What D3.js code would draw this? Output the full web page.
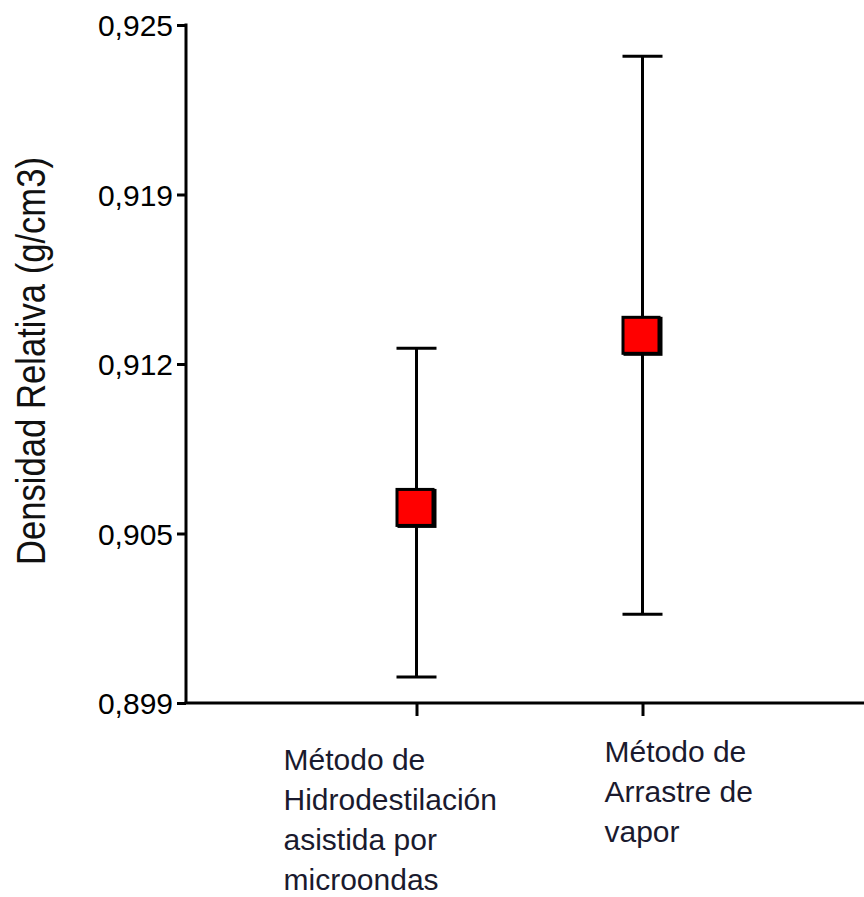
<!DOCTYPE html>
<html>
<head>
<meta charset="utf-8">
<script src="https://cdn.jsdelivr.net/npm/d3@7"></script>
<style>
  html, body { margin: 0; padding: 0; background: #fff; }
  svg { display: block; font-family: "Liberation Sans", Arial, sans-serif; }
</style>
</head>
<body>
<svg id="chart" width="864" height="897"></svg>
<script>
// Relative density of the essential oil by extraction method (mean with error range)
const categories = [
  "Método de Hidrodestilación asistida por microondas",
  "Método de Arrastre de vapor"
];
const categoryLines = [
  ["Método de", "Hidrodestilación", "asistida por", "microondas"],
  ["Método de", "Arrastre de", "vapor"]
];
const means = [0.9065, 0.9131];
const errorsUp = [0.0061, 0.0107];
const errorsDown = [0.0065, 0.0107];
const yTickValues = [0.899, 0.9055, 0.912, 0.9185, 0.925];
const yTickLabels = ["0,899", "0,905", "0,912", "0,919", "0,925"];
const yTitle = "Densidad Relativa (g/cm3)";

// layout
const plot = { left: 186, right: 864, top: 25, bottom: 703 };
const labelOffsetX = [-133, -38];
const labelFirstBaseline = [770, 762];
const lineGap = 40;
const markerSize = 39;
const capHalf = 20;
const stroke = 3;

const svg = d3.select("#chart");

const y = d3.scaleLinear().domain([0.899, 0.925]).range([plot.bottom, plot.top]);
const x = d3.scalePoint().domain(categories).range([416.5, 642.5]);

// y axis
const yAxis = d3.axisLeft(y)
  .tickValues(yTickValues)
  .tickFormat((d, i) => yTickLabels[i])
  .tickSizeInner(9)
  .tickSizeOuter(0)
  .tickPadding(4);

const gy = svg.append("g")
  .attr("transform", `translate(${plot.left},0)`)
  .call(yAxis);
gy.select(".domain").attr("stroke", "#000").attr("stroke-width", stroke)
  .attr("d", `M0,${plot.top - 1.5}V${plot.bottom}`);
gy.selectAll(".tick line").attr("stroke", "#000").attr("stroke-width", stroke);
gy.selectAll(".tick text")
  .attr("fill", "#000")
  .attr("font-size", 30)
  .attr("dy", "0.36em");

// x axis
const xAxis = d3.axisBottom(x)
  .tickSizeInner(13)
  .tickSizeOuter(0)
  .tickFormat("");
const gx = svg.append("g")
  .attr("transform", `translate(0,${plot.bottom})`)
  .call(xAxis);
gx.select(".domain").attr("stroke", "#000").attr("stroke-width", stroke)
  .attr("d", `M${plot.left - 1.5},0H${plot.right}`);
gx.selectAll(".tick line").attr("stroke", "#000").attr("stroke-width", stroke);

// category labels
categories.forEach((c, i) => {
  const t = svg.append("text")
    .attr("font-size", 30)
    .attr("fill", "#1a1a2e")
    .attr("text-anchor", "start");
  categoryLines[i].forEach((line, j) => {
    t.append("tspan")
      .attr("x", x(c) + labelOffsetX[i])
      .attr("y", labelFirstBaseline[i] + j * lineGap)
      .text(line);
  });
});

// y axis title
svg.append("text")
  .attr("transform", `translate(45,${(plot.top + plot.bottom) / 2 - 3}) rotate(-90)`)
  .attr("text-anchor", "middle")
  .attr("font-size", 41)
  .attr("textLength", 408)
  .attr("lengthAdjust", "spacingAndGlyphs")
  .attr("fill", "#111")
  .text(yTitle);

// error bars
const bars = svg.append("g").attr("stroke", "#000").attr("stroke-width", stroke);
categories.forEach((c, i) => {
  const cx = x(c);
  const hi = y(means[i] + errorsUp[i]);
  const lo = y(means[i] - errorsDown[i]);
  bars.append("line").attr("x1", cx).attr("x2", cx).attr("y1", hi).attr("y2", lo);
  bars.append("line").attr("x1", cx - capHalf).attr("x2", cx + capHalf).attr("y1", hi).attr("y2", hi);
  bars.append("line").attr("x1", cx - capHalf).attr("x2", cx + capHalf).attr("y1", lo).attr("y2", lo);
});

// mean markers: red squares with a slight dark shadow
const markers = svg.append("g");
categories.forEach((c, i) => {
  const cx = x(c) - 1.5;
  const cy = y(means[i]);
  markers.append("rect")
    .attr("x", cx - markerSize / 2 + 2)
    .attr("y", cy - markerSize / 2 + 1)
    .attr("width", markerSize)
    .attr("height", markerSize)
    .attr("fill", "#000");
  markers.append("rect")
    .attr("x", cx - markerSize / 2 + stroke / 2)
    .attr("y", cy - markerSize / 2 + stroke / 2)
    .attr("width", markerSize - stroke)
    .attr("height", markerSize - stroke)
    .attr("fill", "#ff0000")
    .attr("stroke", "#000")
    .attr("stroke-width", stroke);
});
</script>
</body>
</html>
